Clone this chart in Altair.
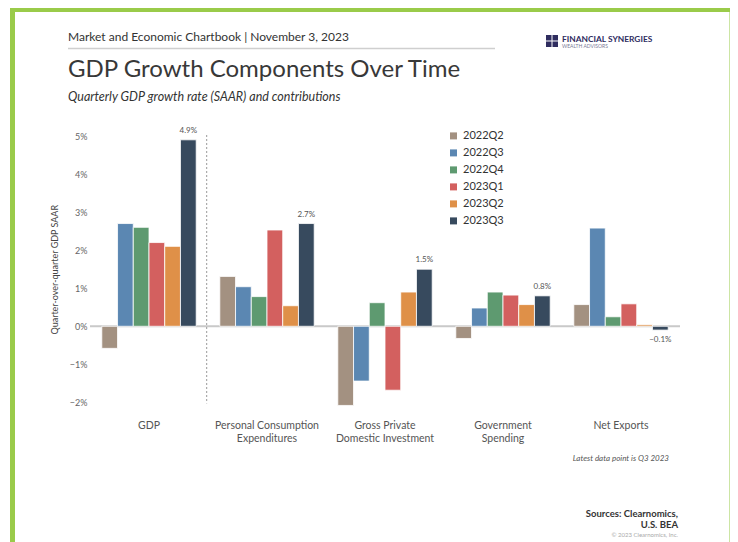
import altair as alt
import pandas as pd

categories = ["GDP", "Personal Consumption Expenditures", "Gross Private Domestic Investment",
              "Government Spending", "Net Exports"]
category_lines = [["GDP"], ["Personal Consumption", "Expenditures"], ["Gross Private", "Domestic Investment"],
                  ["Government", "Spending"], ["Net Exports"]]
quarters = ["2022Q2", "2022Q3", "2022Q4", "2023Q1", "2023Q2", "2023Q3"]
colors = ["#a39181", "#5b87b2", "#5e9a70", "#d3605f", "#df9048", "#374a5e"]

gdp = [-0.58, 2.7, 2.6, 2.2, 2.1, 4.9]
pce = [1.31, 1.04, 0.78, 2.53, 0.54, 2.7]
gpdi = [-2.08, -1.44, 0.62, -1.68, 0.9, 1.5]
gov = [-0.32, 0.48, 0.9, 0.82, 0.57, 0.8]
netx = [0.57, 2.58, 0.25, 0.59, 0.04, -0.1]
series = [gdp, pce, gpdi, gov, netx]

y_ticks = [-2, -1, 0, 1, 2, 3, 4, 5]

rows = []
for c, vals in zip(categories, series):
    for q, v in zip(quarters, vals):
        rows.append({"cat": c, "q": q, "v": v})
df = pd.DataFrame(rows)

FONT = "Lato"

label_expr = " : ".join(
    f"datum.label == '{c}' ? {lines!r}" for c, lines in zip(categories, category_lines)
) + " : datum.label"

base = alt.Chart(df)

x_enc = alt.X("cat:N", sort=categories,
              scale=alt.Scale(paddingInner=0.2, paddingOuter=0.1),
              axis=alt.Axis(title=None, domain=False, ticks=False, labelAngle=0,
                            labelExpr=label_expr, labelFontSize=10.5, labelColor="#555",
                            labelFont=FONT, labelPadding=10, labelLineHeight=13))
y_enc = alt.Y("v:Q", scale=alt.Scale(domain=[-2.2, 5.2], nice=False, zero=False),
              axis=alt.Axis(title="Quarter-over-quarter GDP SAAR", values=y_ticks, grid=False,
                            domain=False, ticks=False, labelPadding=3,
                            labelExpr="format(datum.value, 'd') + '%'",
                            labelFontSize=9, labelColor="#666", labelFont=FONT,
                            titleFontSize=9, titleColor="#444", titleFont=FONT,
                            titleFontWeight="normal", titlePadding=10))

zero_line = alt.Chart(pd.DataFrame({"z": [0]})).mark_rule(color="#c9c9c9", strokeWidth=2).encode(
    y=alt.Y("z:Q"))

bars = base.mark_bar(stroke="white", strokeWidth=0.8).encode(
    x=x_enc,
    xOffset=alt.XOffset("q:N", sort=quarters),
    y=y_enc,
    color=alt.Color("q:N", sort=quarters, scale=alt.Scale(domain=quarters, range=colors),
                    legend=alt.Legend(title=None, orient="none", legendX=358, legendY=2,
                                      symbolType="square", symbolSize=49, symbolStrokeWidth=0,
                                      labelFontSize=11, labelColor="#333", labelFont=FONT,
                                      labelOffset=4, rowPadding=5, padding=0)),
)

last = base.transform_filter(f"datum.q == '{quarters[-1]}'").transform_calculate(
    lab="format(datum.v, '.1f') + '%'")
pos_labels = last.transform_filter("datum.v >= 0").mark_text(
    baseline="bottom", dy=-5, fontSize=8, color="#555", font=FONT).encode(
    x=alt.X("cat:N", sort=categories), xOffset=alt.XOffset("q:N", sort=quarters),
    y="v:Q", text="lab:N")
neg_labels = last.transform_filter("datum.v < 0").mark_text(
    baseline="top", dy=6, fontSize=8, color="#555", font=FONT).encode(
    x=alt.X("cat:N", sort=categories), xOffset=alt.XOffset("q:N", sort=quarters),
    y="v:Q", text="lab:N")


def one():
    return alt.Chart(pd.DataFrame({"k": [0]}))


def note(text, x, y, **kw):
    return alt.Chart(pd.DataFrame({"t": [text]})).mark_text(font=FONT, **kw).encode(
        x=alt.value(x), y=alt.value(y), text="t:N")


# Plot origin is at page pixel (90, 128.4)
sep = one().mark_rule(color="#999", strokeDash=[2, 2], strokeWidth=1).encode(
    x=alt.value(116.7), y=alt.value(6.6), y2=alt.value(275))

border = one().mark_rect(fill=None, stroke="#9acb4a", strokeWidth=5).encode(
    x=alt.value(-77.5), x2=alt.value(642), y=alt.value(-118.9), y2=alt.value(500))

header_rule = one().mark_rule(color="#cfcfcf", strokeWidth=1.5).encode(
    x=alt.value(-22), x2=alt.value(405), y=alt.value(-80))

header = note("Market and Economic Chartbook | November 3, 2023", -22, -91.7,
              align="left", baseline="middle", fontSize=12, color="#333")
title = note("GDP Growth Components Over Time", -22, -51.7,
             align="left", baseline="alphabetic", fontSize=24, color="#383838")
subtitle = note("Quarterly GDP growth rate (SAAR) and contributions", -22, -31.4,
                align="left", baseline="middle", fontSize=12.5, fontStyle="italic", color="#333")

logo_box = one().mark_rect(fill="#2f2d5f").encode(
    x=alt.value(456), x2=alt.value(468), y=alt.value(-93.4), y2=alt.value(-81.4))
logo_v = one().mark_rule(color="white", strokeWidth=1).encode(
    x=alt.value(462), y=alt.value(-93.4), y2=alt.value(-81.4))
logo_h = one().mark_rule(color="white", strokeWidth=1).encode(
    x=alt.value(456), x2=alt.value(468), y=alt.value(-87.4))
logo_text = note("FINANCIAL SYNERGIES", 472, -88.9, align="left", baseline="middle",
                 fontSize=8.4, fontWeight="bold", color="#2f2d5f")
logo_sub = note("WEALTH ADVISORS", 472, -82.2, align="left", baseline="middle",
                fontSize=5, color="#7a7a96")

latest = note("Latest data point is Q3 2023", 579, 330.6, align="right", baseline="middle",
              fontSize=8, fontStyle="italic", color="#555")
src1 = note("Sources: Clearnomics,", 588, 385.2, align="right", baseline="middle",
            fontSize=9.5, fontWeight="bold", color="#333")
src2 = note("U.S. BEA", 588, 396.6, align="right", baseline="middle",
            fontSize=9.5, fontWeight="bold", color="#333")
src3 = note("\u00a9 2023 Clearnomics, Inc.", 588, 406.4, align="right", baseline="middle",
            fontSize=6, color="#aaa")

chart = alt.layer(
    border, zero_line, bars, pos_labels, neg_labels, sep, header_rule, header, title, subtitle,
    logo_box, logo_v, logo_h, logo_text, logo_sub, latest, src1, src2, src3
).properties(
    width=590, height=281.6,
    padding={"left": 82, "top": 120.4, "right": 50, "bottom": 132},
    autosize="none", background="white"
).configure_view(stroke=None)

chart.save("out.html", embed_options={"renderer": "svg", "actions": False})
